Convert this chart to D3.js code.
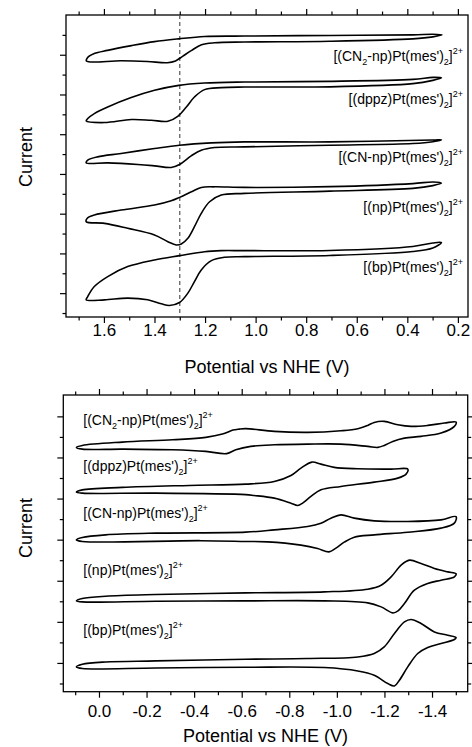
<!DOCTYPE html>
<html>
<head>
<meta charset="utf-8">
<script src="https://cdn.jsdelivr.net/npm/d3@7"></script>
<style>
    body { margin: 0; background: #fff; }
    svg { display: block; }
    text { font-family: "Liberation Sans", Arial, Helvetica, sans-serif; fill: #000; }
</style>
</head>
<body>
<svg id="chart" width="472" height="747"></svg>
<script>
// Complexes, top to bottom in both panels
const ligands = ['CN_2-np', 'dppz', 'CN-np', 'np', 'bp']

// Potential ticks (V vs NHE)
const oxMajor = [1.6, 1.4, 1.2, 1.0, 0.8, 0.6, 0.4, 0.2]
const oxMinor = [1.7, 1.5, 1.3, 1.1, 0.9, 0.7, 0.5, 0.3]
const redMajor = [0.0, -0.2, -0.4, -0.6, -0.8, -1.0, -1.2, -1.4]
const redMinor = [0.1, -0.1, -0.3, -0.5, -0.7, -0.9, -1.1, -1.3, -1.5]
const currentMajor = [0, 1, 2, 3, 4, 5, 6]
const oxCurrentMinor = [-0.5, 0.5, 1.5, 2.5, 3.5, 4.5, 5.5, 6.5]
const redCurrentMinor = [-0.5, 0.5, 1.5, 2.5, 3.5, 4.5, 5.5]
const refPotential = 1.30

// Oxidation scans, [E (V), current (offset, a.u.)]
const oxCN2np = [[1.669, 5.84], [1.531, 5.85], [1.428, 5.83], [1.349, 5.80], [1.317, 5.845], [1.289, 5.96], [1.253, 6.11], [1.214, 6.25], [1.162, 6.30], [1.044, 6.32], [0.707, 6.34], [0.378, 6.40], [0.299, 6.45], [0.263, 6.50], [0.299, 6.515], [0.378, 6.50], [0.707, 6.485], [1.044, 6.47], [1.202, 6.46], [1.305, 6.40], [1.400, 6.33], [1.491, 6.23], [1.586, 6.11], [1.638, 6.03], [1.665, 5.925]]
const oxDppz = [[1.670, 4.333], [1.598, 4.293], [1.492, 4.369], [1.413, 4.351], [1.347, 4.326], [1.308, 4.451], [1.274, 4.685], [1.242, 4.936], [1.202, 5.122], [1.136, 5.172], [1.044, 5.187], [0.707, 5.192], [0.378, 5.272], [0.299, 5.355], [0.265, 5.418], [0.299, 5.43], [0.378, 5.38], [0.707, 5.33], [1.044, 5.313], [1.202, 5.287], [1.304, 5.23], [1.400, 5.104], [1.492, 4.921], [1.585, 4.685], [1.638, 4.519], [1.664, 4.394]]
const oxCNnp = [[1.670, 3.279], [1.585, 3.279], [1.466, 3.239], [1.400, 3.204], [1.334, 3.163], [1.301, 3.239], [1.255, 3.455], [1.215, 3.598], [1.162, 3.666], [1.044, 3.681], [0.707, 3.723], [0.378, 3.766], [0.299, 3.811], [0.265, 3.861], [0.299, 3.854], [0.707, 3.806], [1.044, 3.806], [1.175, 3.781], [1.301, 3.723], [1.400, 3.640], [1.532, 3.515], [1.625, 3.430], [1.664, 3.347]]
const oxNp = [[1.670, 1.798], [1.598, 1.757], [1.506, 1.632], [1.400, 1.464], [1.347, 1.296], [1.314, 1.213], [1.294, 1.238], [1.268, 1.381], [1.242, 1.672], [1.215, 2.009], [1.182, 2.300], [1.136, 2.468], [1.044, 2.511], [0.707, 2.568], [0.378, 2.636], [0.299, 2.706], [0.265, 2.769], [0.299, 2.799], [0.378, 2.757], [0.707, 2.681], [1.044, 2.661], [1.162, 2.676], [1.215, 2.661], [1.254, 2.551], [1.301, 2.410], [1.334, 2.325], [1.400, 2.217], [1.532, 2.091], [1.638, 1.966], [1.665, 1.890]]
const oxBp = [[1.670, -0.168], [1.598, -0.168], [1.506, -0.126], [1.427, -0.168], [1.373, -0.269], [1.341, -0.311], [1.301, -0.236], [1.268, 0.0], [1.242, 0.291], [1.215, 0.585], [1.175, 0.818], [1.123, 0.904], [1.044, 0.919], [0.707, 0.949], [0.378, 1.049], [0.299, 1.137], [0.265, 1.275], [0.299, 1.263], [0.378, 1.175], [0.707, 1.075], [1.044, 1.070], [1.136, 1.070], [1.202, 1.044], [1.301, 0.944], [1.400, 0.836], [1.506, 0.668], [1.585, 0.417], [1.638, 0.166], [1.664, -0.085]]

// Reduction scans, [E (V), current (offset, a.u.)]
const redCN2np = [[0.095, 5.245], [0.070, 5.293], [-0.098, 5.374], [-0.309, 5.430], [-0.449, 5.488], [-0.519, 5.569], [-0.563, 5.666], [-0.589, 5.690], [-0.617, 5.702], [-0.737, 5.634], [-0.877, 5.610], [-1.017, 5.649], [-1.088, 5.698], [-1.130, 5.780], [-1.157, 5.853], [-1.199, 5.878], [-1.256, 5.795], [-1.312, 5.756], [-1.382, 5.780], [-1.452, 5.837], [-1.501, 5.861], [-1.494, 5.756], [-1.438, 5.593], [-1.354, 5.513], [-1.284, 5.471], [-1.235, 5.391], [-1.199, 5.293], [-1.172, 5.245], [-1.130, 5.269], [-1.017, 5.325], [-0.877, 5.325], [-0.737, 5.308], [-0.638, 5.269], [-0.575, 5.186], [-0.537, 5.094], [-0.449, 5.147], [-0.309, 5.186], [-0.098, 5.203], [0.070, 5.203]]
const redDppz = [[0.095, 4.156], [0.070, 4.212], [-0.098, 4.271], [-0.379, 4.319], [-0.617, 4.351], [-0.737, 4.417], [-0.807, 4.563], [-0.849, 4.741], [-0.895, 4.887], [-0.933, 4.838], [-0.989, 4.758], [-1.088, 4.724], [-1.228, 4.716], [-1.298, 4.716], [-1.291, 4.595], [-1.256, 4.497], [-1.157, 4.400], [-1.017, 4.295], [-0.933, 4.212], [-0.891, 4.052], [-0.856, 3.888], [-0.835, 3.832], [-0.807, 3.888], [-0.737, 4.010], [-0.652, 4.076], [-0.617, 4.096], [-0.239, 4.132], [0.070, 4.132]]
const redCNnp = [[0.095, 2.995], [0.070, 3.053], [-0.028, 3.117], [-0.239, 3.158], [-0.617, 3.182], [-0.737, 3.238], [-0.877, 3.321], [-0.933, 3.402], [-0.975, 3.523], [-1.017, 3.604], [-1.073, 3.523], [-1.157, 3.458], [-1.298, 3.443], [-1.438, 3.482], [-1.501, 3.560], [-1.494, 3.402], [-1.438, 3.280], [-1.298, 3.182], [-1.157, 3.117], [-1.073, 3.061], [-1.031, 2.939], [-0.996, 2.793], [-0.967, 2.703], [-0.919, 2.786], [-0.849, 2.866], [-0.709, 2.946], [-0.617, 2.956], [-0.428, 2.975], [0.070, 2.956]]
const redNp = [[0.095, 1.510], [0.070, 1.568], [-0.028, 1.624], [-0.239, 1.665], [-0.617, 1.704], [-0.947, 1.729], [-1.130, 1.794], [-1.186, 1.892], [-1.228, 2.094], [-1.270, 2.379], [-1.305, 2.501], [-1.354, 2.420], [-1.410, 2.299], [-1.466, 2.216], [-1.501, 2.172], [-1.494, 2.094], [-1.438, 2.014], [-1.382, 1.933], [-1.326, 1.770], [-1.284, 1.446], [-1.257, 1.266], [-1.236, 1.217], [-1.186, 1.364], [-1.130, 1.461], [-0.947, 1.510], [-0.617, 1.510], [-0.239, 1.502], [0.070, 1.485]]
const redBp = [[0.095, -0.097], [0.070, -0.032], [-0.028, 0.024], [-0.239, 0.049], [-0.617, 0.090], [-0.877, 0.107], [-1.088, 0.146], [-1.157, 0.229], [-1.199, 0.390], [-1.242, 0.716], [-1.284, 0.998], [-1.312, 1.057], [-1.354, 0.959], [-1.410, 0.755], [-1.466, 0.674], [-1.501, 0.618], [-1.494, 0.570], [-1.438, 0.472], [-1.382, 0.375], [-1.340, 0.229], [-1.298, -0.097], [-1.263, -0.421], [-1.242, -0.560], [-1.214, -0.502], [-1.157, -0.299], [-1.088, -0.195], [-0.947, -0.112], [-0.617, -0.105], [-0.239, -0.122], [0.070, -0.136]]

const svg = d3.select('#chart')
const FONT = '"Liberation Sans", Arial, Helvetica, sans-serif'

const panels = [
    {
        xDomain: [1.75, 0.16], yDomain: [-0.6, 7],
        left: 66, right: 468, top: 15, bottom: 317,
        major: oxMajor, minor: oxMinor, yMinor: oxCurrentMinor,
        scans: [oxCN2np, oxDppz, oxCNnp, oxNp, oxBp],
        labelPad: 1, rightTicks: false,
        titleY: 373, currentY: 157,
        labelX: 463, labelAnchor: 'end', labelY: [61, 104, 162, 212, 272],
        dashed: refPotential,
    },
    {
        xDomain: [0.15, -1.55], yDomain: [-0.7, 6.52],
        left: 63.3, right: 467.7, top: 395, bottom: 691.7,
        major: redMajor, minor: redMinor, yMinor: redCurrentMinor,
        scans: [redCN2np, redDppz, redCNnp, redNp, redBp],
        labelPad: 7, rightTicks: true,
        titleY: 742, currentY: 528,
        labelX: 83.3, labelAnchor: 'start', labelY: [424.5, 471, 518, 575, 635],
        dashed: null,
    },
]

// [(L)Pt(mes')2]2+ split into normal / sub / sup runs
function labelParts(lig) {
    const m = lig.split('_')
    const head = m.length > 1
        ? [['[(' + m[0], 0], [m[1][0], 4], [m[1].slice(1) + ")Pt(mes')", 0]]
        : [['[(' + lig + ")Pt(mes')", 0]]
    return head.concat([['2', 4], [']', 0], ['2+', -7]])
}

function drawPanel(p) {
    const x = d3.scaleLinear().domain(p.xDomain).range([p.left, p.right])
    const y = d3.scaleLinear().domain(p.yDomain).range([p.bottom, p.top])
    const g = svg.append('g')

    const tickAxis = (axis, tx, ty, values, size, fmt, pad) => {
        const a = g.append('g')
            .attr('transform', `translate(${tx},${ty})`)
            .call(axis.tickValues(values).tickSize(size).tickPadding(pad || 2).tickFormat(fmt || ''))
        a.select('.domain').remove()
        a.selectAll('line').attr('stroke-width', 1.2)
        a.selectAll('text').attr('font-size', 17).attr('font-family', FONT)
        return a
    }

    // ticks on the frame
    tickAxis(d3.axisBottom(x), 0, p.bottom, p.major, 6, d => d.toFixed(1), p.labelPad)
    tickAxis(d3.axisBottom(x), 0, p.bottom, p.minor, 3.5)
    tickAxis(d3.axisTop(x), 0, p.top, p.major, 6)
    tickAxis(d3.axisTop(x), 0, p.top, p.minor, 3.5)
    tickAxis(d3.axisLeft(y), p.left, 0, currentMajor, 6)
    tickAxis(d3.axisLeft(y), p.left, 0, p.yMinor, 3.5)
    if (p.rightTicks) {
        tickAxis(d3.axisRight(y), p.right, 0, currentMajor, 6)
        tickAxis(d3.axisRight(y), p.right, 0, p.yMinor, 3.5)
    }

    g.append('rect')
        .attr('x', p.left)
        .attr('y', p.top)
        .attr('width', p.right - p.left)
        .attr('height', p.bottom - p.top)
        .attr('fill', 'none')
        .attr('stroke', '#000')
        .attr('stroke-width', 1.3)

    if (p.dashed !== null) {
        g.append('line')
            .attr('x1', x(p.dashed))
            .attr('x2', x(p.dashed))
            .attr('y1', p.top)
            .attr('y2', p.bottom)
            .attr('stroke', '#555')
            .attr('stroke-width', 1.2)
            .attr('stroke-dasharray', '4,3')
    }

    // cyclic voltammograms
    const line = d3.line()
        .x(d => x(d[0]))
        .y(d => y(d[1]))
        .curve(d3.curveCatmullRomClosed.alpha(0.5))

    g.selectAll('path.cv')
        .data(p.scans)
        .enter()
        .append('path')
        .attr('class', 'cv')
        .attr('d', line)
        .attr('fill', 'none')
        .attr('stroke', '#000')
        .attr('stroke-width', 1.6)
        .attr('stroke-linejoin', 'round')

    // complex labels
    ligands.forEach((lig, i) => {
        const t = g.append('text')
            .attr('x', p.labelX)
            .attr('y', p.labelY[i])
            .attr('text-anchor', p.labelAnchor)
            .attr('font-size', 14)
        let shift = 0
        labelParts(lig).forEach(([s, off]) => {
            t.append('tspan')
                .attr('dy', off - shift)
                .attr('font-size', off === 0 ? 14 : 9)
                .text(s)
            shift = off
        })
    })

    // axis titles
    g.append('text')
        .attr('x', (p.left + p.right) / 2)
        .attr('y', p.titleY)
        .attr('text-anchor', 'middle')
        .attr('font-size', 18)
        .text('Potential vs NHE (V)')

    g.append('text')
        .attr('transform', `translate(31.5,${p.currentY}) rotate(-90)`)
        .attr('text-anchor', 'middle')
        .attr('font-size', 18)
        .text('Current')
}

panels.forEach(drawPanel)
</script>
</body>
</html>
